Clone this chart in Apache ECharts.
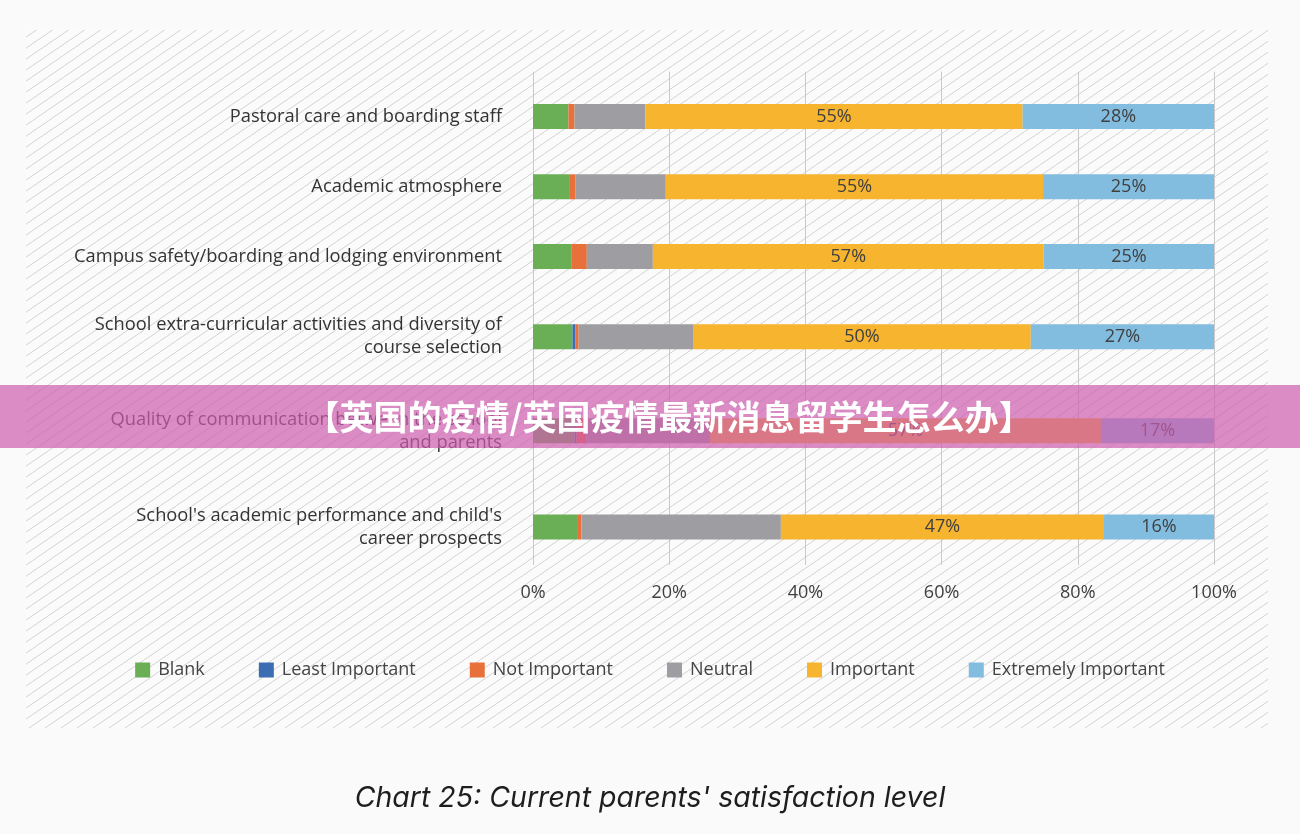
<!DOCTYPE html>
<html>
<head>
<meta charset="utf-8">
<script src="https://cdn.jsdelivr.net/npm/echarts@6/dist/echarts.min.js"></script>
<style>
  html, body { margin: 0; padding: 0; background: #fafafa; }
  #chart { width: 1300px; height: 834px; }
</style>
</head>
<body>
<div id="chart"></div>
<script>
// ---- data (top-to-bottom order) ----
const categories = [
  "Pastoral care and boarding staff",
  "Academic atmosphere",
  "Campus safety/boarding and lodging environment",
  "School extra-curricular activities and diversity of\ncourse selection",
  "Quality of communication between the school\nand parents",
  "School's academic performance and child's\ncareer prospects"
];
const seriesNames = ["Blank", "Least Important", "Not Important", "Neutral", "Important", "Extremely Important"];
const blank              = [5.2, 5.3, 5.7, 5.8, 6.1, 6.6];
const leastImportant     = [0,   0,   0,   0.4, 0.3, 0];
const notImportant       = [0.9, 0.9, 2.2, 0.5, 1.4, 0.5];
const neutral            = [10.4, 13.3, 9.7, 16.8, 18.2, 29.3];
const important          = [55.4, 55.4, 57.4, 49.6, 57.4, 47.45];
const extremelyImportant = [28.1, 25.1, 25.0, 26.9, 16.6, 16.15];
const xTicks = [0, 20, 40, 60, 80, 100];
const titleText = "Chart 25: Current parents' satisfaction level";
const bannerText = "【英国的疫情/英国疫情最新消息留学生怎么办】";

// ---- styles / layout ----
const colors = ["#6aaf55", "#3b6db3", "#e8703b", "#9e9ea2", "#f6b42f", "#82bcdf"];
const labelled = [false, false, false, false, true, true];
const valuesBySeries = [blank, leastImportant, notImportant, neutral, important, extremelyImportant];
// grid bands (each category in its own band, bar centred in band)
const bandEdges = [71.6, 161.4, 212.2, 300.8, 372.6, 489, 565];
const gridLeft = 533, gridRight = 86;

// hatch pattern
function makeHatch() {
  const w = 16, h = 11;
  const c = document.createElement('canvas');
  c.width = w; c.height = h;
  const ctx = c.getContext('2d');
  ctx.fillStyle = '#fbfbfb';
  ctx.fillRect(0, 0, w, h);
  ctx.strokeStyle = '#d2d2d2';
  ctx.lineWidth = 1;
  ctx.beginPath();
  ctx.moveTo(-w, 2 * h); ctx.lineTo(2 * w, -h);
  ctx.stroke();
  return c;
}

const chart = echarts.init(document.getElementById('chart'), null, { renderer: 'canvas' });

const grids = [], xAxes = [], yAxes = [], series = [];
for (let i = 0; i < categories.length; i++) {
  const isLast = i === categories.length - 1;
  grids.push({
    left: gridLeft, right: gridRight,
    top: bandEdges[i], height: bandEdges[i + 1] - bandEdges[i],
    containLabel: false
  });
  xAxes.push({
    gridIndex: i, type: 'value', min: 0, max: 100, interval: 20,
    axisLine: { show: false }, axisTick: { show: false },
    axisLabel: {
      show: isLast, margin: 19, formatter: v => v + '%',
      color: '#3f3f3f', fontSize: 18, fontFamily: 'Open Sans'
    },
    splitLine: { show: true, lineStyle: { color: '#c9c9c9', width: 1 } }
  });
  yAxes.push({
    gridIndex: i, type: 'category', data: [categories[i]],
    axisLine: { show: false }, axisTick: { show: false },
    axisLabel: {
      margin: 31, align: 'right', color: '#333', fontSize: 18.3,
      lineHeight: 23, fontFamily: 'Open Sans'
    }
  });
  seriesNames.forEach((name, s) => {
    series.push({
      name: name, type: 'bar', stack: 'total' + i,
      xAxisIndex: i, yAxisIndex: i,
      barWidth: 25,
      itemStyle: { color: colors[s] },
      label: {
        show: labelled[s], position: 'inside',
        formatter: p => Math.round(p.value) + '%',
        color: '#404040', fontSize: 18, fontFamily: 'Open Sans'
      },
      emphasis: { disabled: true },
      data: [valuesBySeries[s][i]]
    });
  });
}

const option = {
  backgroundColor: '#fafafa',
  animation: false,
  color: colors,
  title: {
    text: titleText, left: 'center', top: 779,
    textStyle: { fontSize: 28.5, fontStyle: 'italic', fontWeight: 'normal', color: '#1e1e1e', fontFamily: 'Inter' }
  },
  legend: {
    data: seriesNames, top: 656, left: 'center',
    itemWidth: 15, itemHeight: 15, itemGap: 54, icon: 'rect',
    textStyle: { fontSize: 18, color: '#444', fontFamily: 'Open Sans', padding: [0, 0, 0, 3] }
  },
  grid: grids,
  xAxis: xAxes,
  yAxis: yAxes,
  series: series,
  graphic: [
    {
      type: 'rect', z: -10, silent: true,
      shape: { x: 26, y: 30, width: 1242, height: 698 },
      style: { fill: { image: makeHatch(), repeat: 'repeat' } }
    },
    {
      type: 'rect', z: 100, silent: true,
      shape: { x: 0, y: 385, width: 1300, height: 63 },
      style: { fill: 'rgba(206, 92, 172, 0.7)' }
    },
    {
      type: 'text', z: 101, silent: true,
      x: 669, y: 417,
      style: {
        text: bannerText, fill: '#ffffff', fontSize: 34, fontWeight: 'bold',
        fontFamily: 'Noto Sans CJK SC', align: 'center', verticalAlign: 'middle'
      }
    }
  ]
};
chart.setOption(option);
</script>
</body>
</html>
